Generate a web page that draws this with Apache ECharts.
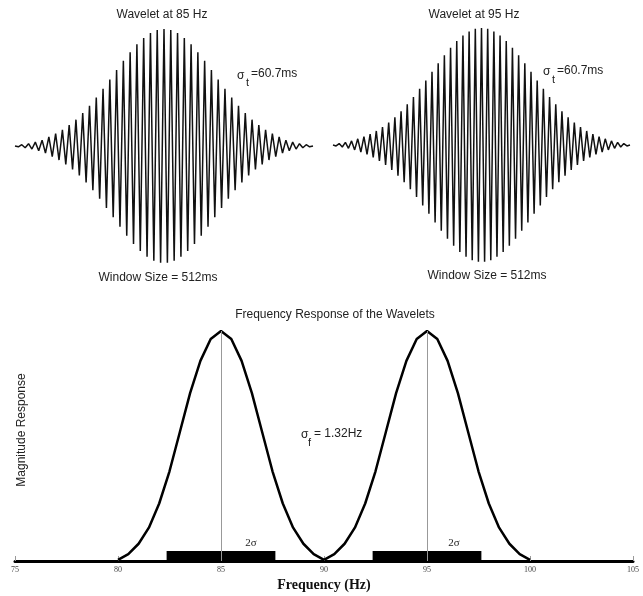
<!DOCTYPE html>
<html>
<head>
<meta charset="utf-8">
<script src="https://cdn.jsdelivr.net/npm/echarts@6/dist/echarts.min.js"></script>
<style>
html,body{margin:0;padding:0;background:#fff;}
#chart{width:643px;height:596px;}
</style>
</head>
<body>
<div id="chart"></div>
<script>
// ---- Data ----
// Wavelet at 85 Hz: successive extrema (normalized amplitude), 512 ms window
const wavelet85 = [0,-0.007,0.011,-0.015,0.02,-0.026,0.033,-0.04,0.05,-0.06,0.078,-0.091,0.105,-0.12,0.138,-0.157,0.178,-0.201,0.225,-0.252,0.281,-0.312,0.344,-0.378,0.414,-0.451,0.49,-0.529,0.569,-0.609,0.649,-0.689,0.728,-0.766,0.802,-0.837,0.869,-0.898,0.924,-0.946,0.965,-0.98,0.991,-0.998,1.0,-0.998,0.991,-0.98,0.965,-0.946,0.924,-0.898,0.869,-0.837,0.802,-0.766,0.728,-0.689,0.649,-0.609,0.569,-0.529,0.49,-0.451,0.414,-0.378,0.344,-0.312,0.281,-0.252,0.225,-0.201,0.178,-0.157,0.138,-0.12,0.105,-0.091,0.078,-0.06,0.05,-0.04,0.033,-0.026,0.02,-0.015,0.011,-0.007,0];
// Wavelet at 95 Hz: successive extrema
const wavelet95 = [0,-0.008,0.012,-0.017,0.022,-0.028,0.035,-0.042,0.053,-0.061,0.071,-0.081,0.093,-0.106,0.12,-0.136,0.153,-0.171,0.192,-0.214,0.237,-0.262,0.289,-0.318,0.347,-0.379,0.411,-0.445,0.48,-0.516,0.552,-0.588,0.625,-0.662,0.698,-0.733,0.768,-0.801,0.832,-0.862,0.889,-0.914,0.936,-0.955,0.971,-0.984,0.993,-0.998,1.0,-0.998,0.993,-0.984,0.971,-0.955,0.936,-0.914,0.889,-0.862,0.832,-0.801,0.768,-0.733,0.698,-0.662,0.625,-0.588,0.552,-0.516,0.48,-0.445,0.411,-0.379,0.347,-0.318,0.289,-0.262,0.237,-0.214,0.192,-0.171,0.153,-0.136,0.12,-0.106,0.093,-0.081,0.071,-0.061,0.053,-0.042,0.035,-0.028,0.022,-0.017,0.012,-0.008,0];

// Frequency responses
const freq85 = [80,80.5,81,81.5,82,82.5,83,83.5,84,84.5,85,85.5,86,86.5,87,87.5,88,88.5,89,89.5,90];
const mag85  = [0.005,0.03,0.075,0.145,0.25,0.39,0.56,0.73,0.87,0.965,1.0,0.965,0.87,0.73,0.56,0.39,0.25,0.145,0.075,0.03,0.005];
const freq95 = [90,90.5,91,91.5,92,92.5,93,93.5,94,94.5,95,95.5,96,96.5,97,97.5,98,98.5,99,99.5,100];
const mag95  = [0.005,0.03,0.075,0.145,0.25,0.39,0.56,0.73,0.87,0.965,1.0,0.965,0.87,0.73,0.56,0.39,0.25,0.145,0.075,0.03,0.005];
// centre frequencies and 2-sigma bands (sigma_f = 1.32 Hz)
const centres = [85, 95];
const sigmaBands = [[82.36, 87.64], [92.36, 97.64]];
const freqTicks = [75, 80, 85, 90, 95, 100, 105];

// ---- Chart ----
const chart = echarts.init(document.getElementById('chart'), null, {renderer: 'canvas'});
const FONT = 'Liberation Sans, Arial, sans-serif';
const TXT = '#222';

function txt(x, y, s, size, extra) {
  return {
    type: 'text', x: x, y: y, silent: true,
    style: Object.assign({text: s, fill: TXT, font: (size || 12) + 'px ' + FONT,
      textAlign: 'center', textVerticalAlign: 'middle'}, extra || {})
  };
}

const option = {
  animation: false,
  backgroundColor: '#fff',
  grid: [
    {left: 15, top: 29, width: 298, height: 234},
    {left: 333, top: 28, width: 297, height: 234},
    {left: 15, right: 10, top: 331, bottom: 35}
  ],
  xAxis: [
    {gridIndex: 0, type: 'category', boundaryGap: false, data: wavelet85.map((_, i) => i), show: false},
    {gridIndex: 1, type: 'category', boundaryGap: false, data: wavelet95.map((_, i) => i), show: false},
    {gridIndex: 2, type: 'value', min: freqTicks[0], max: freqTicks[freqTicks.length - 1], interval: 5,
      splitLine: {show: false},
      axisLine: {show: true, lineStyle: {color: '#000', width: 3}},
      axisTick: {show: true, inside: true, length: 5, lineStyle: {color: '#999', width: 1}},
      axisLabel: {fontSize: 8, fontFamily: 'Liberation Serif, serif', color: '#444', margin: 5},
      name: 'Frequency (Hz)', nameLocation: 'middle', nameGap: 17,
      nameTextStyle: {fontSize: 14, fontWeight: 'bold', fontFamily: 'Liberation Serif, serif', color: '#111'}
    }
  ],
  yAxis: [
    {gridIndex: 0, type: 'value', min: -1, max: 1, show: false},
    {gridIndex: 1, type: 'value', min: -1, max: 1, show: false},
    {gridIndex: 2, type: 'value', min: 0, max: 1, show: false}
  ],
  series: [
    {type: 'line', xAxisIndex: 0, yAxisIndex: 0, data: wavelet85, showSymbol: false, symbol: 'none',
      lineStyle: {color: '#111', width: 1.5}, silent: true},
    {type: 'line', xAxisIndex: 1, yAxisIndex: 1, data: wavelet95, showSymbol: false, symbol: 'none',
      lineStyle: {color: '#111', width: 1.5}, silent: true},
    {type: 'line', xAxisIndex: 2, yAxisIndex: 2, data: freq85.map((f, i) => [f, mag85[i]]),
      showSymbol: false, symbol: 'none', lineStyle: {color: '#000', width: 2.5}, silent: true, z: 3,
      markLine: {silent: true, symbol: 'none', label: {show: false},
        lineStyle: {color: '#999', width: 1, type: 'solid'},
        data: centres.map(c => ({xAxis: c}))}
    },
    {type: 'line', xAxisIndex: 2, yAxisIndex: 2, data: freq95.map((f, i) => [f, mag95[i]]),
      showSymbol: false, symbol: 'none', lineStyle: {color: '#000', width: 2.5}, silent: true, z: 3},
    {type: 'custom', xAxisIndex: 2, yAxisIndex: 2, data: sigmaBands, encode: {x: [0, 1]}, silent: true, z: 4,
      renderItem: function (params, api) {
        const s = api.coord([api.value(0), 0]);
        const e = api.coord([api.value(1), 0]);
        return {type: 'rect', shape: {x: s[0], y: s[1] - 10, width: e[0] - s[0], height: 10},
          style: {fill: '#000'}};
      }
    }
  ],
  graphic: [
    txt(162, 15, 'Wavelet at 85 Hz', 12),
    txt(474, 15, 'Wavelet at 95 Hz', 12),
    txt(158, 278, 'Window Size = 512ms', 12),
    txt(487, 276, 'Window Size = 512ms', 12),
    txt(335, 315, 'Frequency Response of the Wavelets', 12),
    // sigma_t labels
    txt(237, 76, 'σ', 12, {textAlign: 'left'}),
    txt(246, 83, 't', 11, {textAlign: 'left'}),
    txt(251, 74, '=60.7ms', 12, {textAlign: 'left'}),
    txt(543, 72, 'σ', 12, {textAlign: 'left'}),
    txt(552, 80, 't', 11, {textAlign: 'left'}),
    txt(557, 71, '=60.7ms', 12, {textAlign: 'left'}),
    // sigma_f label
    txt(301, 435, 'σ', 12, {textAlign: 'left'}),
    txt(308, 443, 'f', 11, {textAlign: 'left'}),
    txt(314, 434, '= 1.32Hz', 12, {textAlign: 'left'}),
    // 2 sigma labels
    txt(251, 543, '2σ', 11, {font: '11px Liberation Serif, serif'}),
    txt(454, 543, '2σ', 11, {font: '11px Liberation Serif, serif'}),
    // y axis title
    {type: 'text', x: 22, y: 430, rotation: Math.PI / 2, silent: true,
      style: {text: 'Magnitude Response', fill: TXT, font: '12px ' + FONT, textAlign: 'center', textVerticalAlign: 'middle'}}
  ]
};
chart.setOption(option);
</script>
</body>
</html>
